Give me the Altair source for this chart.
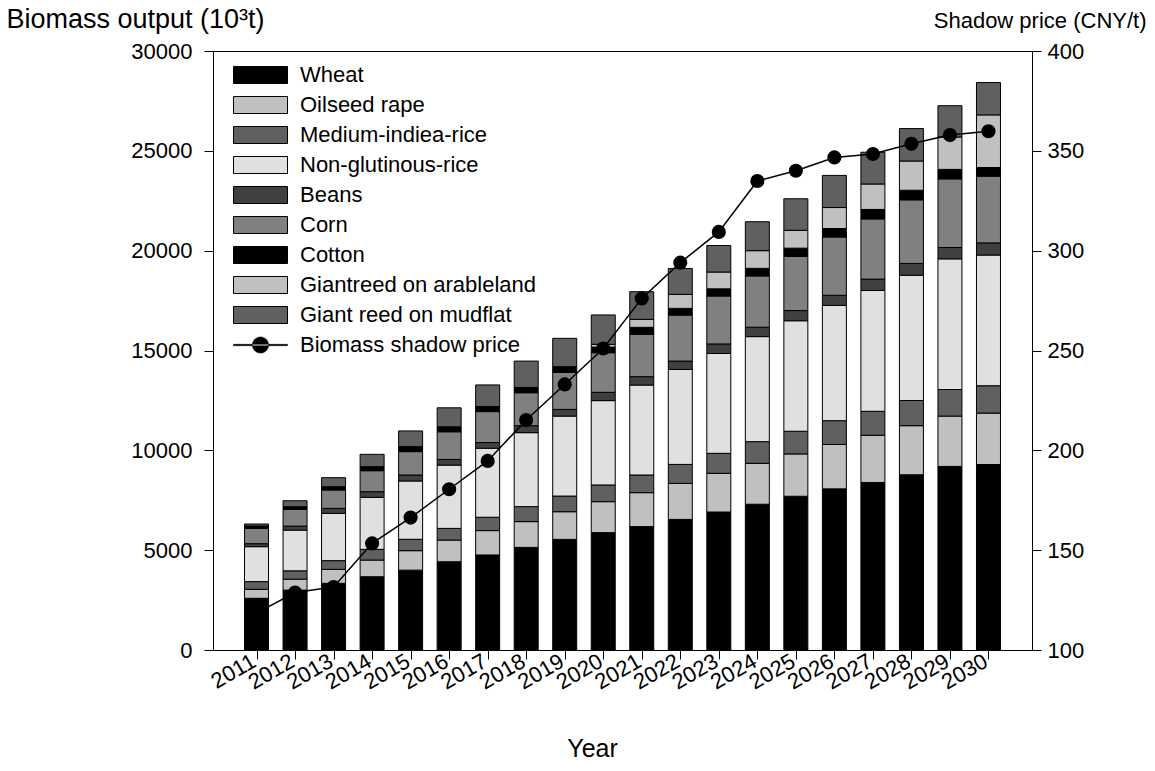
import altair as alt
import pandas as pd

# Years on the horizontal axis
years = list(range(2011, 2031))

# Biomass output by source (10^3 t), stacked from the bottom up
wheat = [2590, 3000, 3340, 3670, 4000, 4420, 4760, 5140, 5540, 5880,
         6180, 6540, 6910, 7300, 7700, 8070, 8390, 8775, 9195, 9290]
oilseed_rape = [450, 550, 700, 835, 975, 1085, 1220, 1290, 1385, 1550,
                1700, 1805, 1940, 2050, 2120, 2225, 2365, 2460, 2520, 2575]
medium_indiea_rice = [385, 415, 435, 535, 570, 585, 670, 750, 785, 835,
                      885, 950, 1000, 1085, 1135, 1190, 1200, 1260, 1330, 1370]
non_glutinous_rice = [1750, 2040, 2370, 2605, 2920, 3170, 3455, 3705, 4005, 4225,
                      4505, 4755, 5000, 5260, 5535, 5775, 6050, 6275, 6545, 6545]
beans = [150, 200, 250, 285, 300, 285, 285, 350, 335, 415,
         420, 420, 480, 470, 510, 505, 570, 590, 570, 610]
corn = [770, 835, 920, 1050, 1170, 1385, 1550, 1650, 1855, 1985,
        2120, 2305, 2400, 2570, 2715, 2920, 3015, 3185, 3435, 3340]
cotton = [115, 135, 165, 200, 250, 250, 250, 265, 285, 280,
          350, 335, 360, 380, 410, 425, 475, 480, 475, 435]
giantreed_arable = [0, 0, 0, 0, 0, 0, 0, 0, 0, 140,
                    400, 700, 840, 885, 895, 1050, 1275, 1465, 1625, 2635]
giant_reed_mudflat = [100, 300, 450, 620, 785, 950, 1085, 1320, 1420, 1470,
                      1385, 1300, 1330, 1450, 1580, 1610, 1590, 1625, 1565, 1620]

# Biomass shadow price (CNY/t)
shadow_price = [118.5, 128.8, 131.5, 153.4, 166.3, 180.5, 194.7, 215.2, 233.0, 251.0,
                276.1, 294.0, 309.4, 334.9, 340.0, 346.7, 348.4, 353.5, 357.9, 359.8]

crops = ["Wheat", "Oilseed rape", "Medium-indiea-rice", "Non-glutinous-rice",
         "Beans", "Corn", "Cotton", "Giantreed on arableland", "Giant reed on mudflat"]
crop_series = [wheat, oilseed_rape, medium_indiea_rice, non_glutinous_rice,
               beans, corn, cotton, giantreed_arable, giant_reed_mudflat]
crop_fills = ["#000000", "#c0c0c0", "#606060", "#e0e0e0",
              "#404040", "#808080", "#000000", "#c0c0c0", "#606060"]

rows = []
for i, (crop, vals) in enumerate(zip(crops, crop_series)):
    for yr, v in zip(years, vals):
        if v > 0:
            rows.append({"year": yr, "crop": crop, "order": i, "value": v})
bars_df = pd.DataFrame(rows)

price_df = pd.DataFrame({"year": years, "price": shadow_price,
                         "series": ["Biomass shadow price"] * len(years)})

FONT = "Liberation Sans"
FS = 22
rect_symbol = "M-1,-0.315H1V0.315H-1Z"
line_dot_symbol = ("M-1,-0.025H1V0.025H-1Z "
                   "M-0.3,0A0.3,0.3 0 1,0 0.3,0A0.3,0.3 0 1,0 -0.3,0Z")

x_enc = alt.X(
    "year:Q",
    scale=alt.Scale(domain=[2010, 2031], nice=False, zero=False),
    axis=alt.Axis(values=years, format="d", labelAngle=-30, labelAlign="right",
                  labelBaseline="middle", labelPadding=0, labelOffset=-3, tickSize=9,
                  labelOverlap=False, labelBound=False,
                  title="Year", titleX=379, titleY=98, titleAlign="center",
                  titleBaseline="middle", titleFontWeight="normal", titleFontSize=25),
)

bars = alt.Chart(bars_df).mark_bar(size=24, stroke="black", strokeWidth=1).encode(
    x=x_enc,
    y=alt.Y("value:Q", stack="zero",
            scale=alt.Scale(domain=[0, 30000], nice=False),
            axis=alt.Axis(values=list(range(0, 30001, 5000)), format="d", orient="left",
                          tickSize=9, labelPadding=12,
                          title="Biomass output (10³t)", titleAngle=0, titleX=-207,
                          titleY=-32, titleAlign="left", titleBaseline="middle",
                          titleFontWeight="normal", titleFontSize=27)),
    fill=alt.Fill("crop:N", scale=alt.Scale(domain=crops, range=crop_fills),
                  legend=alt.Legend(title=None, orient="none", legendX=20, legendY=9,
                                    symbolType=rect_symbol, symbolSize=2916,
                                    symbolStrokeColor="black", symbolStrokeWidth=1,
                                    symbolOpacity=1, labelOffset=12, rowPadding=0,
                                    clipHeight=30, labelLimit=400,
                                    labelFont=FONT, labelFontSize=FS, labelColor="black")),
    order=alt.Order("order:Q", sort="ascending"),
)

y_price = alt.Y("price:Q", scale=alt.Scale(domain=[100, 400], nice=False, zero=False),
                axis=alt.Axis(values=list(range(100, 401, 50)), orient="right",
                              tickSize=9, labelPadding=6,
                              title="Shadow price (CNY/t)", titleAngle=0, titleX=114,
                              titleY=-31, titleAlign="right", titleBaseline="middle",
                              titleFontWeight="normal"))

line = alt.Chart(price_df).mark_line(strokeWidth=1.5).encode(
    x=x_enc,
    y=y_price,
    stroke=alt.Stroke("series:N", scale=alt.Scale(range=["black"]),
                      legend=alt.Legend(title=None, orient="none", legendX=20, legendY=279,
                                        symbolType=line_dot_symbol, symbolSize=2916,
                                        symbolFillColor="black", symbolStrokeColor="black",
                                        symbolStrokeWidth=0.5, labelOffset=12,
                                        clipHeight=30, labelLimit=400,
                                        labelFont=FONT, labelFontSize=FS, labelColor="black")),
)

points = alt.Chart(price_df).mark_point(filled=True, size=200, color="black", opacity=1).encode(
    x=x_enc,
    y=y_price,
)

chart = alt.layer(bars, alt.layer(line, points)).resolve_scale(
    y="independent"
).properties(
    width=819, height=599,
    padding={"left": 213, "top": 51, "right": 123, "bottom": 121},
    autosize=alt.AutoSizeParams(type="none"),
).configure(
    font=FONT,
).configure_view(
    stroke="black", strokeWidth=1,
).configure_axis(
    grid=False, domainColor="black", tickColor="black", domainWidth=1, tickWidth=1,
    labelFont=FONT, labelFontSize=FS, labelColor="black",
    titleFont=FONT, titleFontSize=FS, titleColor="black",
)

chart.save("out.html", embed_options={"renderer": "svg", "actions": False})
